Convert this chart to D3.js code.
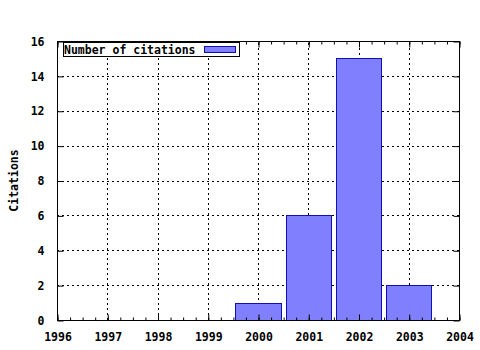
<!DOCTYPE html>
<html>
<head>
<meta charset="utf-8">
<script src="https://cdn.jsdelivr.net/npm/d3@7"></script>
<style>
  body { margin: 0; background: #fff; }
  svg text { font-family: "DejaVu Sans Mono", "Liberation Mono", monospace; font-weight: bold; font-size: 11.5px; fill: #000; }
</style>
</head>
<body>
<div id="chart"></div>
<script>
// data
const years = [2000, 2001, 2002, 2003]
const citations = [1, 6, 15, 2]
const xTicks = [1996, 1997, 1998, 1999, 2000, 2001, 2002, 2003, 2004]
const yTicks = [0, 2, 4, 6, 8, 10, 12, 14, 16]
const seriesName = 'Number of citations'
const yTitle = 'Citations'

const width = 480
const height = 350
const margin = { top: 41, right: 21, bottom: 30, left: 57 }

const svg = d3.select('#chart')
  .append('svg')
  .attr('width', width)
  .attr('height', height)

const x = d3.scaleLinear()
  .domain([1996, 2004])
  .range([margin.left, width - margin.right])

const y = d3.scaleLinear()
  .domain([0, 16])
  .range([height - margin.bottom, margin.top])

const x0 = margin.left, x1 = width - margin.right
const y0 = height - margin.bottom, y1 = margin.top

// grid
const grid = svg.append('g').attr('stroke', '#000').attr('stroke-dasharray', '2,3').attr('stroke-width', 1)
grid.selectAll('.gx')
  .data(xTicks.slice(1, -1))
  .enter().append('line')
  .attr('x1', d => Math.round(x(d)) + 0.5).attr('x2', d => Math.round(x(d)) + 0.5)
  .attr('y1', y0).attr('y2', y1)
grid.selectAll('.gy')
  .data(yTicks.slice(1, -1))
  .enter().append('line')
  .attr('y1', d => Math.round(y(d)) + 0.5).attr('y2', d => Math.round(y(d)) + 0.5)
  .attr('x1', x0).attr('x2', x1)

// bars
const barW = 0.9
svg.append('g').selectAll('rect')
  .data(years.map((yr, i) => ({ yr, v: citations[i] })))
  .enter().append('rect')
  .attr('x', d => Math.round(x(d.yr - barW / 2)) + 0.5)
  .attr('width', d => Math.round(x(d.yr + barW / 2)) - Math.round(x(d.yr - barW / 2)))
  .attr('y', d => Math.round(y(d.v)) + 0.5)
  .attr('height', d => Math.round(y(0)) - Math.round(y(d.v)))
  .attr('fill', '#8080ff')
  .attr('stroke', '#1010b0')
  .attr('stroke-width', 1)

// axes (gnuplot-style inward ticks)
const xAxisB = d3.axisBottom(x).tickValues(xTicks).tickFormat(d3.format('d')).tickSize(-6).tickSizeOuter(0).tickPadding(12)
const xMinor = d3.axisBottom(x).tickValues(d3.range(1996, 2004.01, 0.25)).tickFormat('').tickSize(-3).tickSizeOuter(0)
const yAxisL = d3.axisLeft(y).tickValues(yTicks).tickFormat(d3.format('d')).tickSize(-6).tickSizeOuter(0).tickPadding(13)

const gxb = svg.append('g').attr('transform', `translate(0.5,${y0 + 0.5})`).call(xMinor)
svg.append('g').attr('transform', `translate(0.5,${y0 + 0.5})`).call(xAxisB)
svg.append('g').attr('transform', `translate(0.5,${y1 + 0.5})`).call(d3.axisTop(x).tickValues(d3.range(1996, 2004.01, 0.25)).tickFormat('').tickSize(-3).tickSizeOuter(0))
svg.append('g').attr('transform', `translate(0.5,${y1 + 0.5})`).call(d3.axisTop(x).tickValues(xTicks).tickFormat('').tickSize(-6).tickSizeOuter(0))
svg.append('g').attr('transform', `translate(${x0 + 0.5},0.5)`).call(yAxisL)
svg.append('g').attr('transform', `translate(${x1 + 0.5},0.5)`).call(d3.axisRight(y).tickValues(yTicks).tickFormat('').tickSize(-6).tickSizeOuter(0))

svg.selectAll('.domain').remove()
svg.selectAll('.tick line').attr('stroke', '#000')
svg.selectAll('.tick text').attr('font-family', null).attr('font-size', null).style('fill', '#000')

// border
svg.append('rect')
  .attr('x', x0 + 0.5).attr('y', y1 + 0.5)
  .attr('width', x1 - x0).attr('height', y0 - y1)
  .attr('fill', 'none').attr('stroke', '#000').attr('stroke-width', 1)

// y title
svg.append('text')
  .attr('transform', `translate(18,${(y0 + y1) / 2}) rotate(-90)`)
  .attr('text-anchor', 'middle')
  .text(yTitle)

// legend
const legend = svg.append('g')
legend.append('rect')
  .attr('x', 63.5).attr('y', 42.5).attr('width', 176).attr('height', 14)
  .attr('fill', '#fff').attr('stroke', '#000')
legend.append('text').attr('x', 64).attr('y', 54).text(seriesName)
legend.append('rect')
  .attr('x', 204.5).attr('y', 46.5).attr('width', 31).attr('height', 6)
  .attr('fill', '#8080ff').attr('stroke', '#1010b0')
</script>
</body>
</html>
